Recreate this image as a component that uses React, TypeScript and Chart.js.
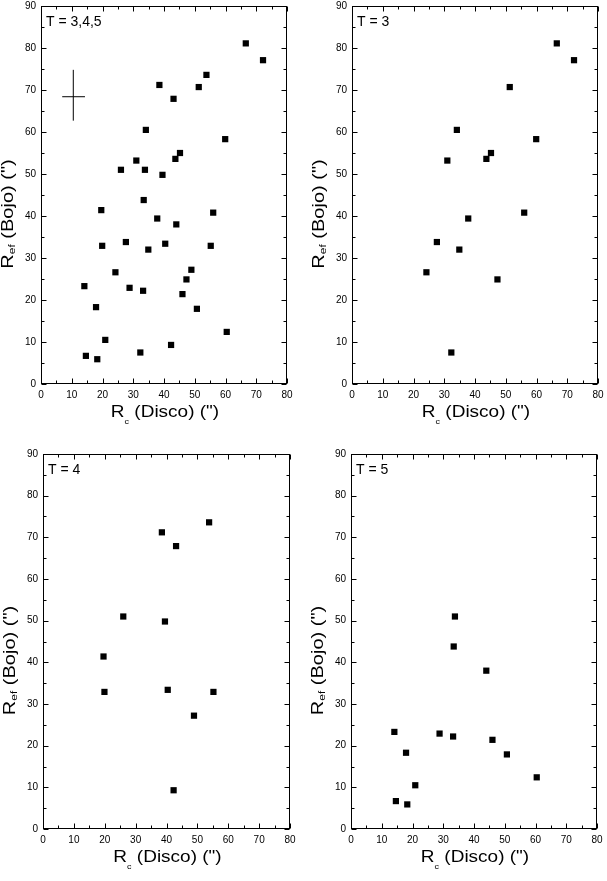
import React, { useEffect, useRef } from "react";
import { Chart, registerables, ChartOptions } from "chart.js";

Chart.register(...registerables);

// R_c (Disco) and R_ef (Bojo) in arcsec, one pair of arrays per T class
const t3Rc = [66.6, 72.2, 51.3, 34.1, 59.9, 45.2, 43.7, 31.0, 56.0, 37.8, 27.6, 34.9, 24.2, 47.3, 32.3];
const t3Ref = [81.1, 77.1, 70.7, 60.5, 58.3, 55.0, 53.6, 53.2, 40.8, 39.4, 33.8, 32.0, 26.6, 24.9, 7.5];

const t4Rc = [53.8, 38.5, 43.1, 26.0, 39.5, 19.6, 19.9, 40.4, 55.2, 48.9, 42.3];
const t4Ref = [73.6, 71.2, 67.9, 51.0, 49.8, 41.4, 32.9, 33.4, 32.9, 27.2, 9.3];

const t5Rc = [14.1, 17.9, 20.9, 14.6, 18.3, 28.8, 33.2, 33.8, 33.4, 44.0, 46.0, 50.7, 60.4];
const t5Ref = [23.3, 18.3, 10.5, 6.7, 5.9, 22.9, 22.2, 51.0, 43.8, 38.0, 21.4, 17.9, 12.4];

const allRc = [...t3Rc, ...t4Rc, ...t5Rc];
const allRef = [...t3Ref, ...t4Ref, ...t5Ref];

// typical error cross drawn in the combined panel
const errCenter = [10.5, 68.4];
const errRcRange = [6.9, 14.3];
const errRefRange = [62.7, 74.8];

const xTickStep = 10;
const yTickStep = 10;
const xMax = 80;
const yMax = 90;

const FONT = '"Liberation Sans", Arial, Helvetica, sans-serif';

// offsets of the plot area inside each canvas
const Y_AXIS_W = 41;
const PAD_TOP = 12;
const PAD_RIGHT = 14;
const X_AXIS_H = 50;

type Part = { text: string; size: number; dy: number };

// draws text pieces (main + subscript) centred on 0, squashed vertically by sy
function drawRich(ctx: CanvasRenderingContext2D, parts: Part[], sy: number) {
  let total = 0;
  const widths = parts.map((p) => {
    ctx.font = `${p.size}px ${FONT}`;
    const w = ctx.measureText(p.text).width;
    total += w;
    return w;
  });
  ctx.scale(1, sy);
  let x = -total / 2;
  parts.forEach((p, i) => {
    ctx.font = `${p.size}px ${FONT}`;
    ctx.fillText(p.text, x, p.dy / sy);
    x += widths[i];
  });
}

const framePlugin = {
  id: "frameTicksTitles",
  afterDraw(chart: any) {
    const { ctx, chartArea: ca, scales } = chart;
    const xs = scales.x;
    const ys = scales.y;
    const l = Math.round(ca.left) + 0.5;
    const r = Math.round(ca.right) - 0.5;
    const t = Math.round(ca.top) + 0.5;
    const b = Math.round(ca.bottom) - 0.5;
    ctx.save();
    ctx.strokeStyle = "#000";
    ctx.lineWidth = 1;
    ctx.strokeRect(l, t, r - l, b - t);

    // inward ticks on all four sides, minor every 5
    ctx.beginPath();
    for (let v = 0; v <= xMax; v += xTickStep / 2) {
      const px = Math.round(xs.getPixelForValue(v)) + 0.5;
      const len = v % xTickStep === 0 ? 5 : 3;
      ctx.moveTo(px, b);
      ctx.lineTo(px, b - len);
      ctx.moveTo(px, t);
      ctx.lineTo(px, t + len);
    }
    for (let v = 0; v <= yMax; v += yTickStep / 2) {
      const py = Math.round(ys.getPixelForValue(v)) + 0.5;
      const len = v % yTickStep === 0 ? 5 : 3;
      ctx.moveTo(l, py);
      ctx.lineTo(l + len, py);
      ctx.moveTo(r, py);
      ctx.lineTo(r - len, py);
    }
    ctx.stroke();

    ctx.fillStyle = "#000";
    ctx.textBaseline = "alphabetic";
    ctx.textAlign = "left";

    // panel label
    const label = chart.options.plugins.frameTicksTitles?.label ?? "";
    ctx.font = `14px ${FONT}`;
    ctx.fillText(label, ca.left + 5, ca.top + 20);

    // x title
    ctx.save();
    ctx.translate((ca.left + ca.right) / 2 + 1, ca.bottom + 33);
    drawRich(
      ctx,
      [
        { text: "R", size: 19, dy: 0 },
        { text: "c", size: 9, dy: 6.5 },
        { text: ' (Disco) (")', size: 19, dy: 0 },
      ],
      0.86
    );
    ctx.restore();

    // y title
    ctx.save();
    ctx.translate(ca.left - 28, (ca.top + ca.bottom) / 2 + 19);
    ctx.rotate(-Math.PI / 2);
    drawRich(
      ctx,
      [
        { text: "R", size: 20, dy: 0 },
        { text: "ef", size: 12, dy: 2 },
        { text: ' (Bojo) (")', size: 20, dy: 0 },
      ],
      0.78
    );
    ctx.restore();

    ctx.restore();
  },
};

interface PanelProps {
  label: string;
  rc: number[];
  rEf: number[];
  area: { l: number; t: number; r: number; b: number };
  showErr?: boolean;
}

const Panel: React.FC<PanelProps> = ({ label, rc, rEf, area, showErr }) => {
  const canvasRef = useRef<HTMLCanvasElement | null>(null);
  const chartRef = useRef<Chart | null>(null);

  useEffect(() => {
    if (!canvasRef.current) return;
    const ctx = canvasRef.current.getContext("2d");
    if (!ctx) return;
    if (chartRef.current) chartRef.current.destroy();

    const datasets: any[] = [
      {
        data: rc.map((x, i) => ({ x, y: rEf[i] })),
        pointStyle: "rect",
        pointRadius: 4.4,
        pointHoverRadius: 4.4,
        backgroundColor: "#000",
        borderWidth: 0,
      },
    ];
    if (showErr) {
      datasets.push(
        {
          data: errRcRange.map((x) => ({ x, y: errCenter[1] })),
          showLine: true,
          pointRadius: 0,
          borderColor: "#000",
          borderWidth: 1,
        },
        {
          data: errRefRange.map((y) => ({ x: errCenter[0], y })),
          showLine: true,
          pointRadius: 0,
          borderColor: "#000",
          borderWidth: 1,
        }
      );
    }

    chartRef.current = new Chart(ctx, {
      type: "scatter",
      data: { datasets },
      options: {
        responsive: true,
        maintainAspectRatio: false,
        animation: false,
        events: [],
        layout: { padding: { top: PAD_TOP, right: PAD_RIGHT, left: 0, bottom: 0 } },
        plugins: {
          legend: { display: false },
          tooltip: { enabled: false },
          frameTicksTitles: { label },
        },
        scales: {
          x: {
            type: "linear",
            min: 0,
            max: xMax,
            grid: { display: false, drawTicks: false },
            border: { display: false },
            ticks: {
              stepSize: xTickStep,
              color: "#000",
              font: { family: FONT, size: 10 },
              padding: 5,
              maxRotation: 0,
            },
            afterFit: (s: any) => {
              s.height = X_AXIS_H;
            },
          },
          y: {
            type: "linear",
            min: 0,
            max: yMax,
            grid: { display: false, drawTicks: false },
            border: { display: false },
            ticks: {
              stepSize: yTickStep,
              color: "#000",
              font: { family: FONT, size: 10 },
              padding: 5,
            },
            afterFit: (s: any) => {
              s.width = Y_AXIS_W;
            },
          },
        },
      } as ChartOptions<"scatter">,
      plugins: [framePlugin],
    });

    return () => {
      if (chartRef.current) {
        chartRef.current.destroy();
        chartRef.current = null;
      }
    };
  }, [label, rc, rEf, area, showErr]);

  const w = area.r - area.l + Y_AXIS_W + PAD_RIGHT;
  const h = area.b - area.t + PAD_TOP + X_AXIS_H;
  return (
    <div
      style={{
        position: "absolute",
        left: area.l - Y_AXIS_W,
        top: area.t - PAD_TOP,
        width: w,
        height: h,
      }}
    >
      <canvas ref={canvasRef}></canvas>
    </div>
  );
};

const areaTL = { l: 41, t: 6, r: 287, b: 384 };
const areaTR = { l: 352, t: 6, r: 598, b: 384 };
const areaBL = { l: 43, t: 454, r: 290, b: 829 };
const areaBR = { l: 351, t: 454, r: 597, b: 829 };

export default function App() {
  return (
    <div
      style={{
        position: "absolute",
        left: 0,
        top: 0,
        width: 607,
        height: 881,
        overflow: "hidden",
        background: "#fff",
      }}
    >
      <Panel label="T = 3,4,5" rc={allRc} rEf={allRef} area={areaTL} showErr />
      <Panel label="T = 3" rc={t3Rc} rEf={t3Ref} area={areaTR} />
      <Panel label="T = 4" rc={t4Rc} rEf={t4Ref} area={areaBL} />
      <Panel label="T = 5" rc={t5Rc} rEf={t5Ref} area={areaBR} />
    </div>
  );
}
